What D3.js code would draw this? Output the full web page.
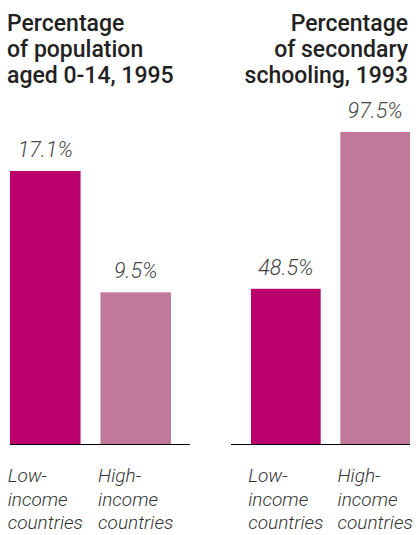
<!DOCTYPE html>
<html>
<head>
<meta charset="utf-8">
<script src="https://cdn.jsdelivr.net/npm/d3@7"></script>
<style>
  body { margin: 0; background: #fff; }
  text { font-family: Roboto, 'Noto Sans', sans-serif; }
</style>
</head>
<body>
<div id="chart"></div>
<script>
const categories = ['Low-income countries', 'High-income countries']
const categoryLines = [['Low-', 'income', 'countries'], ['High-', 'income', 'countries']]
const populationValues = [17.1, 9.5]
const schoolingValues = [48.5, 97.5]
const populationTitle = ['Percentage', 'of population', 'aged 0-14, 1995']
const schoolingTitle = ['Percentage', 'of secondary', 'schooling, 1993']

const width = 416
const height = 535
const baseline = 444
const colors = ['#b9006b', '#c0789b']

const svg = d3
  .select('#chart')
  .append('svg')
  .attr('width', width)
  .attr('height', height)

const panels = [
  { title: populationTitle, values: populationValues, x0: 10, x1: 171, lineX: [10, 190], top: 171, align: 'start', titleX: 7 },
  { title: schoolingTitle, values: schoolingValues, x0: 251, x1: 410, lineX: [231, 410], top: 132, align: 'end', titleX: 408 }
]

panels.forEach(p => {
  const g = svg.append('g')

  const x = d3
    .scaleBand()
    .domain(categories)
    .range([p.x0, p.x1])
    .paddingInner(0.22)

  // each panel has its own scale, tallest bar sets it
  const y = d3
    .scaleLinear()
    .domain([0, d3.max(p.values)])
    .range([baseline, p.top])

  // title
  g.append('text')
    .attr('x', p.titleX)
    .attr('y', 31)
    .attr('text-anchor', p.align)
    .attr('font-size', 23)
    .attr('font-weight', 500)
    .attr('fill', '#222')
    .selectAll('tspan')
    .data(p.title)
    .enter()
    .append('tspan')
    .attr('x', p.titleX)
    .attr('dy', (d, i) => (i === 0 ? 0 : 26))
    .text(d => d)

  g.append('line')
    .attr('x1', p.lineX[0])
    .attr('x2', p.lineX[1])
    .attr('y1', baseline + 0.5)
    .attr('y2', baseline + 0.5)
    .attr('stroke', '#000')
    .attr('stroke-width', 1)

  g.selectAll('.bar')
    .data(p.values)
    .enter()
    .append('rect')
    .attr('class', 'bar')
    .attr('x', (d, i) => x(categories[i]))
    .attr('width', x.bandwidth())
    .attr('y', d => y(d))
    .attr('height', d => baseline - y(d))
    .attr('fill', (d, i) => colors[i])

  g.selectAll('.value')
    .data(p.values)
    .enter()
    .append('text')
    .attr('class', 'value')
    .attr('x', (d, i) => x(categories[i]) + x.bandwidth() / 2)
    .attr('y', d => y(d) - 14)
    .attr('text-anchor', 'middle')
    .attr('font-size', 21.5)
    .attr('font-style', 'italic')
    .attr('font-weight', 300)
    .attr('fill', '#444')
    .text(d => d.toFixed(1) + '%')

  // category labels, left aligned block centred under each bar
  categories.forEach((c, i) => {
    const t = g.append('text')
      .attr('font-size', 19)
      .attr('font-style', 'italic')
      .attr('font-weight', 300)
      .attr('fill', '#333')
      .attr('y', 482)
    t.selectAll('tspan')
      .data(categoryLines[i])
      .enter()
      .append('tspan')
      .attr('x', 0)
      .attr('dy', (d, j) => (j === 0 ? 0 : 23.5))
      .text(d => d)
    const w = t.node().getBBox().width
    const left = x(c) + x.bandwidth() / 2 - w / 2
    t.selectAll('tspan').attr('x', left)
  })
})
</script>
</body>
</html>
